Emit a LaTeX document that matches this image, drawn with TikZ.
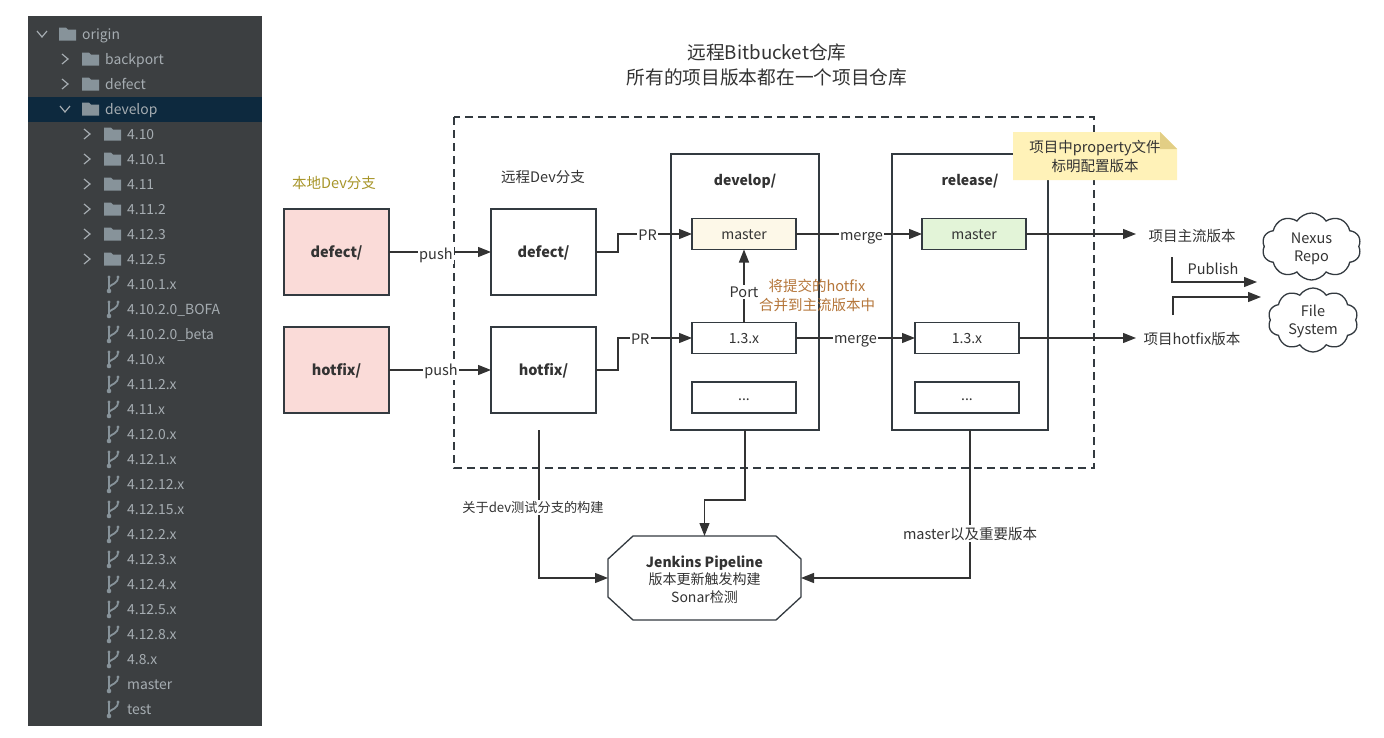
\documentclass[tikz,border=0pt]{standalone}
\usepackage{fontspec}
\setmainfont{Noto Sans CJK SC}
\usetikzlibrary{arrows.meta,shapes.symbols}
\definecolor{panelbg}{HTML}{3C3F41}
\definecolor{panelsel}{HTML}{0D293E}
\definecolor{paneltxt}{HTML}{A6ADB2}
\definecolor{panelico}{HTML}{87939A}
\definecolor{inkline}{HTML}{333A40}
\definecolor{inktxt}{HTML}{333333}
\definecolor{localred}{HTML}{FADBD8}
\definecolor{masteryel}{HTML}{FDF8E8}
\definecolor{mastergrn}{HTML}{E3F4D8}
\definecolor{noteyel}{HTML}{FFF2B8}
\definecolor{notefold}{HTML}{E2CE85}
\definecolor{oliveyel}{HTML}{A8962A}
\definecolor{rust}{HTML}{B5763A}
\tikzset{
  box/.style={draw=inkline,line width=1.3pt,inner sep=0pt,outer sep=0pt,text=inktxt,font=\fontsize{14}{16}\selectfont},
  bigbox/.style={box,minimum width=105,minimum height=86,font=\fontsize{14.5}{17}\selectfont\bfseries},
  smallbox/.style={box,minimum width=104,minimum height=31},
  holder/.style={box,minimum width=148,minimum height=276},
  link/.style={draw=inktxt,line width=1.3pt,-{Triangle[length=13pt,width=10pt]}},
  plain/.style={text=inktxt,inner sep=1pt,yshift=-1.5pt,font=\fontsize{14.5}{19}\selectfont,align=center},
  onwire/.style={plain,fill=white,inner sep=1.5pt},
  puff/.style={cloud,cloud puffs=10,cloud puff arc=115,cloud ignores aspect,draw=inkline,line width=1.3pt,align=center,text=inktxt,inner sep=0pt,font=\fontsize{14.5}{18}\selectfont},
  treetext/.style={anchor=base west,text=paneltxt,inner sep=0pt,font=\fontsize{13.9}{16}\selectfont}
}
\newcommand{\lowered}[1]{\raisebox{-5.5pt}[0pt][0pt]{#1}}
% folder icon at the left middle
\newcommand{\foldericon}[2]{\fill[panelico] (#1,#2-6.5) -- (#1+7,#2-6.5) -- (#1+9,#2-4.5) -- (#1+17,#2-4.5) -- (#1+17,#2+6.5) -- (#1,#2+6.5) -- cycle;}
% branch icon
\newcommand{\branchicon}[2]{\draw[panelico,line width=1.8pt] (#1,#2-7) -- (#1,#2+7) (#1,#2+3) .. controls (#1+2,#2) and (#1+9,#2) .. (#1+9,#2-7);\fill[panelico] (#1,#2+7) circle (2.3) (#1,#2-7) circle (1.6) (#1+9,#2-7) circle (1.6);}
\newcommand{\chevright}[2]{\draw[paneltxt,line width=1.2pt] (#1-3,#2-5) -- (#1+3,#2) -- (#1-3,#2+5);}
\newcommand{\chevdown}[2]{\draw[paneltxt,line width=1.2pt] (#1-5,#2-3) -- (#1,#2+3) -- (#1+5,#2-3);}
\begin{document}
\begin{tikzpicture}[x=1pt,y=-1pt]
\useasboundingbox (0,0) rectangle (1384,737);
\fill[white] (0,0) rectangle (1384,737);
% Left panel with the branch tree
\fill[panelbg] (28,16) rectangle (262,726);
\fill[panelsel] (28,97) rectangle (262,122);
\chevdown{42}{34}
\foldericon{59}{34}
\node[treetext] (treeorigin) at (82,39.5) {origin};
\chevright{65}{59}
\foldericon{82}{59}
\node[treetext] (treebackport) at (105,64.5) {backport};
\chevright{65}{84}
\foldericon{82}{84}
\node[treetext] (treedefect) at (105,89.5) {defect};
\chevdown{65}{109}
\foldericon{82}{109}
\node[treetext] (treedevelop) at (105,114.5) {develop};
% Version folders
\foreach \y/\name in {134/4.10,159/4.10.1,184/4.11,209/4.11.2,234/4.12.3,259/4.12.5}{
  \chevright{87}{\y}
  \foldericon{104}{\y}
  \node[treetext] (folder\y) at (127,\y+5.5) {\name};
}
% Version branches
\foreach \y/\name in {284/4.10.1.x,309/4.10.2.0\_BOFA,334/4.10.2.0\_beta,359/4.10.x,384/4.11.2.x,409/4.11.x,434/4.12.0.x,459/4.12.1.x,484/4.12.12.x,509/4.12.15.x,534/4.12.2.x,559/4.12.3.x,584/4.12.4.x,609/4.12.5.x,634/4.12.8.x,659/4.8.x,684/master,709/test}{
  \branchicon{109}{\y}
  \node[treetext] (branch\y) at (127,\y+5.5) {\name};
}
% Title
\node[plain,font=\fontsize{18.7}{25}\selectfont] (title) at (767,63) {远程Bitbucket仓库\\所有的项目版本都在一个项目仓库};
% Dashed frame of the remote repository
\draw[inkline,line width=1.4pt,dash pattern=on 8pt off 5pt] (454,117) rectangle (1094,468);
% Local branches
\node[plain,text=oliveyel] (locallabel) at (334,182) {本地Dev分支};
\node[bigbox,fill=localred] (localdefect) at (336.5,252) {\lowered{defect/}};
\node[bigbox,fill=localred] (localhotfix) at (336.5,370) {\lowered{hotfix/}};
% Remote branches
\node[plain] (remotelabel) at (543,176) {远程Dev分支};
\node[bigbox] (remotedefect) at (543.5,252) {\lowered{defect/}};
\node[bigbox] (remotehotfix) at (543.5,370) {\lowered{hotfix/}};
% Containers
\node[holder] (develop) at (745,292) {};
\node[holder,minimum width=156] (release) at (970,292) {};
\node[plain,font=\fontsize{14}{16}\selectfont\bfseries] (developlabel) at (745,180) {develop/};
\node[plain,font=\fontsize{14}{16}\selectfont\bfseries] (releaselabel) at (970,180) {release/};
% Inner branches of develop
\node[smallbox,fill=masteryel] (devmaster) at (744,234) {\lowered{master}};
\node[smallbox] (devfix) at (744,338) {\lowered{1.3.x}};
\node[smallbox] (devmore) at (744,397.5) {\raisebox{-3pt}[0pt][0pt]{...}};
% Inner branches of release
\node[smallbox,fill=mastergrn] (relmaster) at (974,234) {\lowered{master}};
\node[smallbox] (relfix) at (967,338) {\lowered{1.3.x}};
\node[smallbox] (relmore) at (967,397.5) {\raisebox{-3pt}[0pt][0pt]{...}};
% Note with its folded corner
\fill[noteyel] (1013,132) -- (1160,132) -- (1177,149) -- (1177,180) -- (1013,180) -- cycle;
\fill[notefold] (1160,132) -- (1177,149) -- (1160,149) -- cycle;
\node[plain] (note) at (1095,155) {项目中property文件\\标明配置版本};
% Push and PR
\draw[link] (localdefect.east) -- node[onwire,pos=0.46,yshift=-2pt] (pushdefect) {push} (remotedefect.west);
\draw[link] (localhotfix.east) -- node[onwire,pos=0.51] (pushhotfix) {push} (remotehotfix.west);
\draw[link] (remotedefect.east) -- ++(22,0) |- node[onwire,pos=0.70] (prdefect) {PR} (devmaster.west);
\draw[link] (remotehotfix.east) -- ++(22,0) |- node[onwire,pos=0.65] (prhotfix) {PR} (devfix.west);
% Port and merge
\draw[link] (devfix.north) -- node[onwire,pos=0.44] (portlabel) {Port} (devmaster.south);
\node[plain,text=rust] (portnote) at (817,293.5) {将提交的hotfix\\合并到主流版本中};
\draw[link] (devmaster.east) -- node[onwire,pos=0.52,yshift=-2.5pt] (mergemaster) {merge} (relmaster.west);
\draw[link] (devfix.east) -- node[onwire,pos=0.5,yshift=-2pt] (mergefix) {merge} (relfix.west);
% Released versions
\node[plain] (mainver) at (1192,235) {项目主流版本};
\node[plain] (fixver) at (1192,338) {项目hotfix版本};
\coordinate (mainend) at (1136,234);
\coordinate (fixend) at (1136,338);
\draw[link] (relmaster.east) -- (mainend);
\draw[link] (relfix.east) -- (fixend);
% Publish targets
\node[puff,minimum width=99,minimum height=67] (nexus) at (1311.5,246.5) {\rule{0pt}{15pt}Nexus\\Repo};
\node[puff,minimum width=90,minimum height=64] (filesys) at (1313,320) {\rule{0pt}{15pt}File\\System};
\coordinate (pubstart) at (1172,257);
\coordinate (pubend) at (1257,282);
\coordinate (filestart) at (1173,315);
\coordinate (fileend) at (1261,297);
\draw[link] (pubstart) |- (pubend);
\draw[link] (filestart) |- (fileend);
\node[plain] (publish) at (1213,267) {Publish};
% Jenkins octagon
\draw[inkline,line width=1.3pt,fill=white] (633,536) -- (776,536) -- (801,559) -- (801,597) -- (776,620) -- (633,620) -- (608,597) -- (608,559) -- cycle;
\node[minimum width=193,minimum height=84,outer sep=0pt,inner sep=0pt] (jenkins) at (704.5,578) {};
\node[plain,font=\fontsize{14}{17.5}\selectfont] (jenkinstext) at (704.5,578) {{\bfseries Jenkins Pipeline}\\版本更新触发构建\\Sonar检测};
% Builds
\coordinate (devstart) at (539,430);
\draw[link] (devstart) |- node[onwire,pos=0.258,xshift=-6,font=\fontsize{13.2}{18}\selectfont] (devbuild) {关于dev测试分支的构建} (jenkins.west);
\draw[link] (develop.south) -- (745,500) -- (704.5,500) -- (jenkins.north);
\draw[link] (release.south) |- node[onwire,pos=0.345] (relbuild) {master以及重要版本} (jenkins.east);
\end{tikzpicture}
\end{document}
